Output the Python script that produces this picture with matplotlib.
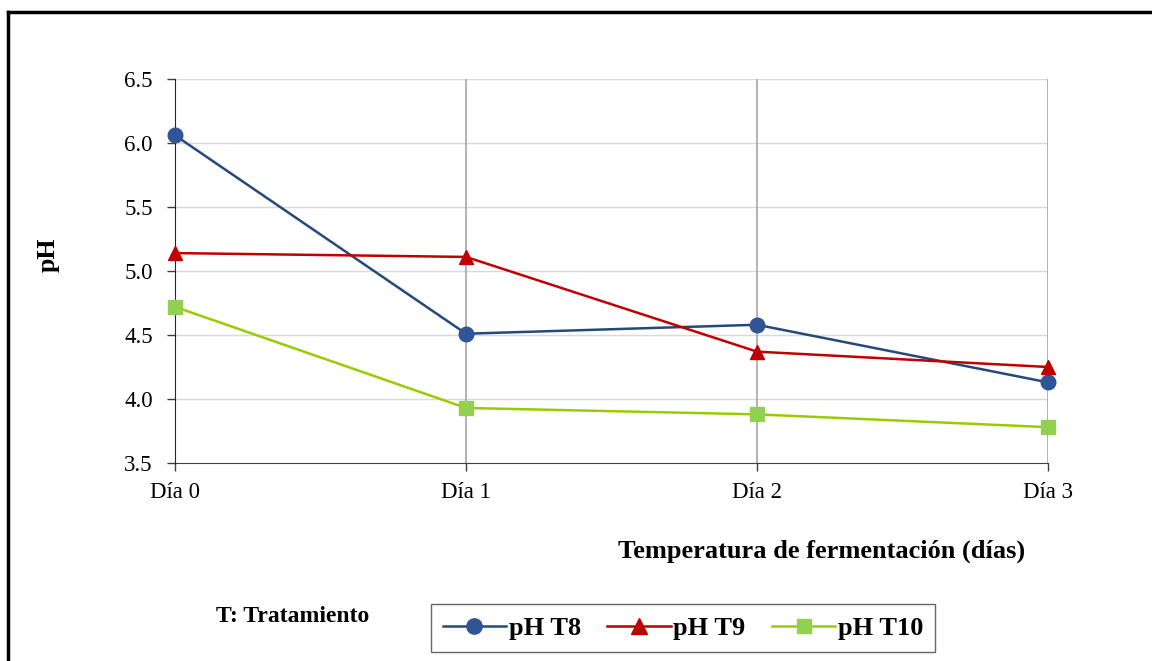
import numpy as np
import matplotlib.pyplot as plt
from matplotlib.lines import Line2D

plt.rcParams['font.family'] = ['Liberation Serif', 'DejaVu Serif']

dias = ["Día 0", "Día 1", "Día 2", "Día 3"]
ph_t8 = [6.06, 4.51, 4.58, 4.13]
ph_t9 = [5.14, 5.11, 4.37, 4.25]
ph_t10 = [4.72, 3.93, 3.88, 3.78]

fig = plt.figure(figsize=(11.52, 6.61), dpi=100)
ax = fig.add_axes([175 / 1152, 1 - 463 / 661, 873 / 1152, 384 / 661])

x = np.arange(len(dias))
ax.plot(x, ph_t8, color="#24497a", lw=1.8, marker="o", ms=10.5,
        mfc="#2f5597", mec="#2f5597", label="pH T8", zorder=4, clip_on=False)
ax.plot(x, ph_t9, color="#c00000", lw=1.8, marker="^", ms=10.5,
        mfc="#c00000", mec="#c00000", label="pH T9", zorder=4, clip_on=False)
ax.plot(x, ph_t10, color="#99cc00", lw=1.8, marker="s", ms=9.5,
        mfc="#92d050", mec="#92d050", label="pH T10", zorder=4, clip_on=False)

ax.set_xlim(0, 3)
ax.set_ylim(3.5, 6.5)
ax.set_yticks(np.arange(3.5, 6.51, 0.5))
ax.set_yticklabels([f"{v:.1f}" for v in np.arange(3.5, 6.51, 0.5)])
ax.set_xticks(x)
ax.set_xticklabels(dias)
ax.tick_params(labelsize=16.5, direction="out", length=6, width=1,
               color="#404040")
ax.tick_params(axis="y", pad=10)
ax.tick_params(axis="x", pad=8)

for v in np.arange(4.0, 6.51, 0.5):
    ax.axhline(v, color="#d9d9d9", lw=1, zorder=1)
for xv in x[1:]:
    ax.axvline(xv, color="#a6a6a6", lw=1.2, zorder=1)

for s in ["top", "right"]:
    ax.spines[s].set_visible(False)
ax.spines["left"].set_color("#262626")
ax.spines["bottom"].set_color("#404040")
ax.spines["bottom"].set_zorder(2)

fig.text(48 / 1152, 1 - 255 / 661, "pH", rotation=90, fontsize=18.5,
         fontweight="bold", ha="center", va="center")
fig.text(822 / 1152, 1 - 551 / 661, "Temperatura de fermentación (días)",
         fontsize=19, fontweight="bold", ha="center", va="center")
fig.text(293 / 1152, 1 - 617 / 661, "T: Tratamiento", fontsize=17,
         fontweight="bold", ha="center", va="center")

leg = fig.legend(loc="center", bbox_to_anchor=(683 / 1152, 1 - 628 / 661),
                 ncol=3, frameon=True, fancybox=False, edgecolor="#404040",
                 prop={"size": 19, "weight": "bold"}, handlelength=2.4,
                 columnspacing=1.0, handletextpad=0.1, borderpad=0.45,
                 borderaxespad=0, markerscale=1.05)
leg.get_frame().set_linewidth(1)

# marco exterior
fig.add_artist(Line2D([8 / 1152, 1], [1 - 12 / 661, 1 - 12 / 661],
                      transform=fig.transFigure, color="black", lw=2.5))
fig.add_artist(Line2D([8 / 1152, 8 / 1152], [0, 1 - 12 / 661],
                      transform=fig.transFigure, color="black", lw=2.5))

plt.savefig("out.png", dpi=100)
